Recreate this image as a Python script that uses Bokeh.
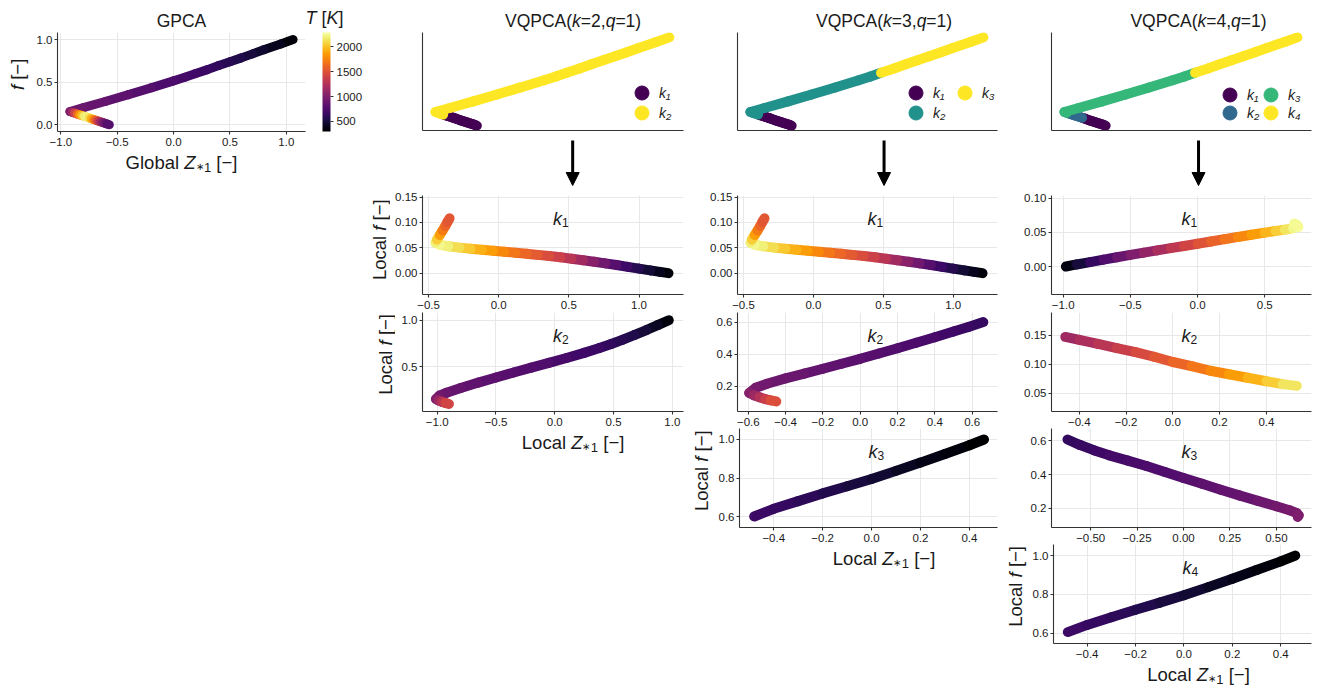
from math import pi
from bokeh.plotting import figure
from bokeh.layouts import row, column
from bokeh.models import (ColumnDataSource, LinearColorMapper, ColorBar, FixedTicker, Label,
                          Legend, LegendItem, Arrow, NormalHead, CustomJSTickFormatter,
                          Range1d)
from bokeh.transform import transform
from bokeh.palettes import Inferno256
from bokeh.embed import file_html
from bokeh.resources import INLINE

FONT = "Liberation Sans"
TXT = "#1a1a1a"
SPINE = "#333333"
GRID = "#e8e8e8"

# ------------------------------------------------------------------ data
# global manifold (GPCA), ordered from the f=1 end, through the bend, to the f=0 end
glob_z = [1.06, 0.95, 0.80, 0.70, 0.60, 0.50, 0.40, 0.30, 0.19, 0.10, 0.00, -0.20, -0.40,
          -0.60, -0.80, -0.92,
          -0.90, -0.88, -0.855, -0.835, -0.815, -0.795, -0.77, -0.75, -0.73, -0.71, -0.69,
          -0.67, -0.65, -0.63, -0.61, -0.59, -0.57]
glob_f = [1.000, 0.948, 0.880, 0.832, 0.785, 0.740, 0.695, 0.647, 0.598, 0.557, 0.515, 0.433,
          0.353, 0.275, 0.200, 0.155,
          0.146, 0.137, 0.126, 0.117, 0.109, 0.100, 0.089, 0.080, 0.071, 0.062, 0.053,
          0.044, 0.035, 0.027, 0.018, 0.009, 0.000]
glob_T = [300, 360, 440, 490, 530, 570, 610, 645, 680, 705, 730, 770, 810, 850, 880, 920,
          1050, 1250, 1500, 1700, 1900, 2100, 2250, 2200, 2050, 1850, 1650, 1450, 1250, 1100,
          950, 830, 750]

# VQPCA cluster label of each global point (segment i -> i+1 takes label of point i)
vq2_lab = [2] * 18 + [1] * 15
vq3_lab = [3] * 8 + [2] * 10 + [1] * 15
vq4_lab = [4] * 8 + [3] * 8 + [2] * 6 + [1] * 11

# local manifolds, VQPCA k=2
k2c1_z = [1.21, 1.15, 1.08, 1.00, 0.92, 0.84, 0.76, 0.68, 0.60, 0.52, 0.44, 0.36, 0.28, 0.20,
          0.12, 0.04, -0.04, -0.12, -0.20, -0.28, -0.36, -0.42, -0.45,
          -0.44, -0.42, -0.40, -0.38, -0.365, -0.35]
k2c1_f = [0.0000, 0.0025, 0.0055, 0.0090, 0.0125, 0.0160, 0.0193, 0.0225, 0.0255, 0.0285,
          0.0312, 0.0337, 0.0360, 0.0382, 0.0403, 0.0422, 0.0441, 0.0461, 0.0481, 0.0503,
          0.0530, 0.0560, 0.0600,
          0.066, 0.075, 0.084, 0.093, 0.101, 0.108]
k2c1_T = [300, 360, 440, 530, 620, 740, 860, 980, 1100, 1230, 1340, 1430, 1510, 1580, 1650,
          1730, 1810, 1900, 1990, 2080, 2170, 2230, 2250,
          2150, 1950, 1780, 1650, 1560, 1500]
k2c2_z = [0.97, 0.88, 0.78, 0.68, 0.58, 0.48, 0.38, 0.25, 0.10, -0.05, -0.20, -0.35, -0.50,
          -0.65, -0.80, -0.92, -0.98, -1.01, -0.99, -0.96, -0.93, -0.90]
k2c2_f = [1.000, 0.950, 0.895, 0.842, 0.792, 0.745, 0.702, 0.650, 0.595, 0.543, 0.491, 0.439,
          0.386, 0.331, 0.272, 0.222, 0.192, 0.155, 0.140, 0.126, 0.113, 0.102]
k2c2_T = [300, 380, 460, 520, 570, 610, 645, 680, 715, 745, 770, 790, 810, 835, 860, 885, 910,
          950, 1050, 1200, 1350, 1480]

# VQPCA k=3
k3c1_z = [1.21, 1.15, 1.08, 1.00, 0.92, 0.84, 0.76, 0.68, 0.60, 0.52, 0.44, 0.36, 0.28, 0.20,
          0.12, 0.04, -0.04, -0.12, -0.20, -0.28, -0.36, -0.42, -0.45,
          -0.44, -0.42, -0.40, -0.38, -0.365, -0.35]
k3c1_f = [0.0000, 0.0025, 0.0055, 0.0090, 0.0125, 0.0160, 0.0193, 0.0225, 0.0255, 0.0285,
          0.0312, 0.0337, 0.0360, 0.0382, 0.0403, 0.0422, 0.0441, 0.0461, 0.0481, 0.0503,
          0.0530, 0.0560, 0.0600,
          0.066, 0.075, 0.084, 0.093, 0.101, 0.108]
k3c1_T = [300, 360, 440, 530, 620, 740, 860, 980, 1100, 1230, 1340, 1430, 1510, 1580, 1650,
          1730, 1810, 1900, 1990, 2080, 2170, 2230, 2250,
          2150, 1950, 1780, 1650, 1560, 1500]
k3c2_z = [0.66, 0.58, 0.50, 0.40, 0.30, 0.20, 0.10, 0.00, -0.10, -0.20, -0.30, -0.40, -0.50,
          -0.56, -0.595, -0.57, -0.54, -0.51, -0.48, -0.45]
k3c2_f = [0.600, 0.570, 0.541, 0.506, 0.471, 0.437, 0.404, 0.371, 0.340, 0.309, 0.279, 0.249,
          0.215, 0.190, 0.158, 0.143, 0.131, 0.120, 0.112, 0.105]
k3c2_T = [620, 650, 680, 710, 740, 765, 790, 810, 830, 850, 870, 890, 910, 930, 980, 1080,
          1200, 1320, 1430, 1520]
k3c3_z = [-0.48, -0.40, -0.30, -0.20, -0.10, 0.00, 0.10, 0.20, 0.30, 0.40, 0.46]
k3c3_f = [0.600, 0.640, 0.680, 0.720, 0.757, 0.795, 0.837, 0.880, 0.925, 0.970, 1.000]
k3c3_T = [690, 660, 620, 580, 535, 490, 445, 400, 355, 315, 290]

# VQPCA k=4
k4c1_z = [-0.98, -0.90, -0.80, -0.70, -0.60, -0.50, -0.40, -0.30, -0.20, -0.10, 0.00, 0.10,
          0.20, 0.30, 0.40, 0.50, 0.58, 0.65, 0.71, 0.75, 0.74, 0.72]
k4c1_f = [0.0000, 0.0030, 0.0065, 0.0100, 0.0135, 0.0170, 0.0203, 0.0236, 0.0270, 0.0300,
          0.0333, 0.0366, 0.0400, 0.0433, 0.0465, 0.0496, 0.0520, 0.0540, 0.0560, 0.0580,
          0.0610, 0.0630]
k4c1_T = [300, 420, 580, 710, 830, 940, 1040, 1150, 1260, 1370, 1460, 1550, 1630, 1720, 1810,
          1910, 2000, 2100, 2200, 2260, 2260, 2250]
k4c2_z = [-0.46, -0.40, -0.32, -0.24, -0.16, -0.08, 0.00, 0.08, 0.16, 0.24, 0.32, 0.40, 0.47,
          0.53]
k4c2_f = [0.147, 0.142, 0.135, 0.128, 0.121, 0.113, 0.104, 0.097, 0.089, 0.083, 0.077, 0.071,
          0.066, 0.063]
k4c2_T = [1120, 1170, 1250, 1330, 1410, 1490, 1570, 1650, 1730, 1810, 1900, 2000, 2100, 2200]
k4c3_z = [-0.625, -0.56, -0.48, -0.40, -0.30, -0.20, -0.10, 0.00, 0.10, 0.20, 0.30, 0.40,
          0.50, 0.57, 0.61, 0.62, 0.615]
k4c3_f = [0.606, 0.575, 0.542, 0.513, 0.482, 0.450, 0.415, 0.380, 0.345, 0.310, 0.277, 0.245,
          0.213, 0.190, 0.172, 0.160, 0.150]
k4c3_T = [620, 640, 665, 690, 715, 740, 765, 790, 815, 840, 865, 890, 920, 945, 965, 985, 1000]
k4c4_z = [-0.48, -0.40, -0.30, -0.20, -0.10, 0.00, 0.10, 0.20, 0.30, 0.40, 0.46]
k4c4_f = [0.605, 0.642, 0.681, 0.720, 0.757, 0.795, 0.837, 0.880, 0.925, 0.970, 1.000]
k4c4_T = [690, 660, 620, 580, 535, 490, 445, 400, 355, 315, 290]

T_ticks = [500, 1000, 1500, 2000]
clust_colors = {2: ["#440154", "#fde725"],
                3: ["#440154", "#21918c", "#fde725"],
                4: ["#440154", "#31688e", "#35b779", "#fde725"]}
clust_names = ["k\u2081", "k\u2082", "k\u2083", "k\u2084"]

mapper = LinearColorMapper(palette=Inferno256, low=295, high=2290)

# ------------------------------------------------------------------ helpers
CW = {' ': 278, '(': 333, ')': 333, ',': 278, '.': 278, '=': 584, 'A': 667, 'C': 722, 'G': 778,
      'K': 667, 'L': 556, 'P': 667, 'Q': 778, 'T': 611, 'V': 667, 'Z': 611, '[': 278, ']': 278,
      'a': 556, 'b': 556, 'c': 500, 'f': 278, 'k': 500, 'l': 222, 'o': 556, 'q': 556,
      '\u2212': 584, '\u2217': 838}

AX = 18.5      # axis-label size
SUB = 13       # subscript size
AST = 10       # subscript asterisk size
TI = 17.5      # title size


def tw(s, size):
    return sum(CW.get(ch, 556) for ch in s) * size / 1000.0


def rich(p, x, y, pieces, xo=0.0, yo=0.0, align="center", vertical=False):
    """Mixed-style text made of several Labels laid side by side (baseline 'middle')."""
    total = sum(tw(t, s) for t, s, it, dy in pieces)
    pos = -total / 2.0 if align == "center" else 0.0
    for t, s, it, dy in pieces:
        lead = len(t) - len(t.lstrip(" "))
        core = t.strip(" ")
        off = pos + tw(" " * lead, s)
        kw = dict(x=x, y=y, text=core, text_font=FONT, text_font_size=f"{s}px",
                  text_font_style="italic" if it else "normal", text_color=TXT,
                  text_align="left", text_baseline="middle")
        if vertical:
            lab = Label(x_offset=xo - dy, y_offset=yo + off, angle=pi / 2, **kw)
        else:
            lab = Label(x_offset=xo + off, y_offset=yo + dy, **kw)
        p.add_layout(lab)
        pos += tw(t, s)


def fmt(d):
    return CustomJSTickFormatter(args=dict(d=d),
                                 code="return tick.toFixed(d).replace('-', '\u2212');")


def strip(w, h):
    p = figure(width=w, height=h, x_range=(0, w), y_range=Range1d(h, 0), x_axis_type=None,
               y_axis_type=None, output_backend="svg", toolbar_location=None, min_border=0)
    p.outline_line_color = None
    p.border_fill_color = "white"
    p.background_fill_color = "white"
    return p


def base_fig(w, h, bl, br, bt, bb, xr, yr):
    p = figure(width=w, height=h, x_range=xr, y_range=yr, output_backend="svg",
               toolbar_location=None, min_border_left=bl, min_border_right=br,
               min_border_top=bt, min_border_bottom=bb)
    p.outline_line_color = None
    p.border_fill_color = "white"
    p.background_fill_color = "white"
    return p


def style_axes(p, xt, yt, xd, yd):
    p.xaxis.ticker = FixedTicker(ticks=xt)
    p.yaxis.ticker = FixedTicker(ticks=yt)
    p.xaxis.formatter = fmt(xd)
    p.yaxis.formatter = fmt(yd)
    for ax in list(p.xaxis) + list(p.yaxis):
        ax.axis_line_color = SPINE
        ax.axis_line_width = 1.1
        ax.major_tick_line_color = SPINE
        ax.major_tick_line_width = 1.1
        ax.major_tick_out = 3
        ax.major_tick_in = 0
        ax.minor_tick_line_color = None
        ax.major_label_text_font = FONT
        ax.major_label_text_font_size = "11.5px"
        ax.major_label_text_color = TXT
        ax.major_label_standoff = 2
    p.xaxis.major_label_standoff = 3
    p.grid.grid_line_color = GRID
    p.grid.grid_line_width = 1


def bare_axes(p):
    for ax in list(p.xaxis) + list(p.yaxis):
        ax.ticker = FixedTicker(ticks=[])
        ax.axis_line_color = SPINE
        ax.axis_line_width = 1.1
        ax.major_tick_line_color = None
        ax.minor_tick_line_color = None
        ax.major_label_text_font_size = "0px"
    p.grid.visible = False


def draw_T(p, z, f, T, lw=9):
    src = ColumnDataSource(dict(x0=z[:-1], y0=f[:-1], x1=z[1:], y1=f[1:],
                                T=[(a + b) / 2.0 for a, b in zip(T[:-1], T[1:])]))
    p.segment("x0", "y0", "x1", "y1", source=src, line_color=transform("T", mapper),
              line_width=lw, line_cap="round")


def draw_clusters(p, z, f, lab, colors, lw=10):
    n = len(z)
    for k, col in enumerate(colors, start=1):
        idx = [i for i in range(n - 1) if lab[i] == k]
        src = ColumnDataSource(dict(x0=[z[i] for i in idx], y0=[f[i] for i in idx],
                                    x1=[z[i + 1] for i in idx], y1=[f[i + 1] for i in idx]))
        p.segment("x0", "y0", "x1", "y1", source=src, line_color=col, line_width=lw,
                  line_cap="round")


def legend_renderer(p, k, color, lab):
    # one real point of cluster k, drawn tiny beneath the curve; it supplies the legend swatch
    idx = [i for i, v in enumerate(lab) if v == k]
    i0 = idx[len(idx) // 2]
    src = ColumnDataSource(dict(x=[glob_z[i0]], y=[glob_f[i0]]))
    return p.scatter("x", "y", source=src, size=1, marker="circle", fill_color=color,
                     line_color=color)


def add_legend(p, k, r, loc):
    leg = Legend(items=[LegendItem(label=clust_names[k - 1], renderers=[r])], location=loc,
                 glyph_width=35, glyph_height=35, label_standoff=-3, padding=0, margin=0,
                 border_line_color=None, background_fill_alpha=0,
                 label_text_font=FONT, label_text_font_size="14px",
                 label_text_font_style="italic", label_text_color=TXT)
    p.add_layout(leg)


Z_SUB = [("Z", AX, True, 0), ("\u2217", AST, False, -4), ("1", SUB, False, -5)]
LOCAL_F = [("Local ", AX, False, 0), ("f", AX, True, 0), (" [\u2212]", AX, False, 0)]
LOCAL_Z = [("Local ", AX, False, 0)] + Z_SUB + [(" [\u2212]", AX, False, 0)]


def k_label(p, xr, yr, k):
    kx = xr[0] + 0.5 * (xr[1] - xr[0])
    ky = yr[0] + 0.765 * (yr[1] - yr[0])
    rich(p, kx, ky, [("k", 18, True, 0), (str(k), 12, False, -4)], align="left")


def local_panel(w, h, bl, br, bt, bb, xr, yr, xt, yt, xd, yd, z, f, T, k):
    p = base_fig(w, h, bl, br, bt, bb, xr, yr)
    style_axes(p, xt, yt, xd, yd)
    draw_T(p, z, f, T, lw=10)
    k_label(p, xr, yr, k)
    return p


def ylab_strip(w, h, cx, cy, pieces):
    s = strip(w, h)
    rich(s, cx, cy, pieces, vertical=True)
    return s


def xlab_strip(w, h, cx, cy, pieces):
    s = strip(w, h)
    rich(s, cx, cy, pieces)
    return s


def title_strip(w, cx, kk):
    s = strip(w, 32)
    rich(s, cx, 20, [("VQPCA(", TI, False, 0), ("k", TI, True, 0), (f"={kk},", TI, False, 0),
                     ("q", TI, True, 0), ("=1)", TI, False, 0)])
    return s


def top_panel(w, bl, br, kk, lab, locs):
    p = base_fig(w, 105, bl, br, 0, 7, (-1.03, 1.18), (-0.055, 1.055))
    bare_axes(p)
    cols = clust_colors[kk]
    rends = [legend_renderer(p, k, cols[k - 1], lab) for k in range(1, kk + 1)]
    draw_clusters(p, glob_z, glob_f, lab, cols)
    for k in range(1, kk + 1):
        add_legend(p, k, rends[k - 1], locs[k - 1])
    return p


def arrow_fig(w, cx):
    h = 53
    p = figure(width=w, height=h, x_range=(0, w), y_range=(0, h), x_axis_type=None,
               y_axis_type=None, output_backend="svg", toolbar_location=None, min_border=0)
    p.outline_line_color = None
    p.add_layout(Arrow(end=NormalHead(size=13, fill_color="black", line_color="black",
                                      line_width=1),
                       x_start=cx, y_start=h - 3, x_end=cx, y_end=h - 48,
                       line_width=3, line_color="black"))
    return p


# ------------------------------------------------------------------ GPCA column (x 0-365)
gx, gy = (-1.03, 1.17), (-0.08, 1.083)
gt = strip(365, 32)
rich(gt, 181, 20.5, [("GPCA", TI, False, 0)])
rich(gt, 324, 17, [("T", 18, True, 0), (" [", 18, False, 0), ("K", 18, True, 0),
                   ("]", 18, False, 0)])
g = base_fig(335, 117, 27, 60, 0, 18, gx, gy)
style_axes(g, [-1.0, -0.5, 0.0, 0.5, 1.0], [0.0, 0.5, 1.0], 1, 1)
draw_T(g, glob_z, glob_f, glob_T)
cb = ColorBar(color_mapper=mapper, location=(265, 0), width=8, height=99, padding=0,
              ticker=FixedTicker(ticks=T_ticks), major_label_text_font=FONT,
              major_label_text_font_size="11.5px", major_label_text_color=TXT,
              major_tick_out=3, major_tick_in=0, major_tick_line_color=SPINE,
              minor_tick_line_color=None, label_standoff=3, bar_line_color=None,
              border_line_color=None, background_fill_alpha=0)
g.add_layout(cb)
gy_s = ylab_strip(30, 117, 17, 49.5, [("f", AX, True, 0), (" [\u2212]", AX, False, 0)])
gx_s = xlab_strip(365, 31, 181, 12.5,
                  [("Global ", AX, False, 0)] + Z_SUB + [(" [\u2212]", AX, False, 0)])
col0 = column(gt, row(gy_s, g), gx_s)

# ------------------------------------------------------------------ column k=2 (x 365-690)
t2 = top_panel(325, 57, 7, 2, vq2_lab, [(202, 20), (202, 0)])
r2_2 = local_panel(300, 122, 32, 7, 5, 18, (-0.543, 1.317), (-0.042, 0.153),
                   [-0.5, 0.0, 0.5, 1.0], [0.0, 0.05, 0.10, 0.15], 1, 2,
                   k2c1_z, k2c1_f, k2c1_T, 1)
r3_2 = local_panel(295, 117, 27, 7, 0, 18, (-1.125, 1.095), (0.021, 1.083),
                   [-1.0, -0.5, 0.0, 0.5, 1.0], [0.5, 1.0], 1, 1,
                   k2c2_z, k2c2_f, k2c2_T, 2)
col1 = column(title_strip(325, 187.5, 2), t2, arrow_fig(325, 187),
              row(ylab_strip(25, 122, 14, 54.5, LOCAL_F), r2_2),
              row(ylab_strip(30, 117, 20, 49.5, LOCAL_F), r3_2),
              xlab_strip(325, 31, 187.5, 12.5, LOCAL_Z))

# ------------------------------------------------------------------ column k=3 (x 690-1004)
t3 = top_panel(314, 47, 7, 3, vq3_lab, [(161, 20), (161, 0), (210, 20)])
r2_3 = local_panel(314, 122, 47, 7, 5, 18, (-0.543, 1.317), (-0.042, 0.153),
                   [-0.5, 0.0, 0.5, 1.0], [0.0, 0.05, 0.10, 0.15], 1, 2,
                   k3c1_z, k3c1_f, k3c1_T, 1)
r3_3 = local_panel(314, 116, 47, 7, 0, 17, (-0.658, 0.736), (0.042, 0.66),
                   [-0.6, -0.4, -0.2, 0.0, 0.2, 0.4, 0.6], [0.2, 0.4, 0.6], 1, 1,
                   k3c2_z, k3c2_f, k3c2_T, 2)
r4_3 = local_panel(289, 116, 22, 7, 0, 17, (-0.54, 0.515), (0.543, 1.057),
                   [-0.4, -0.2, 0.0, 0.2, 0.4], [0.6, 0.8, 1.0], 1, 1,
                   k3c3_z, k3c3_f, k3c3_T, 3)
col2 = column(title_strip(314, 177, 3), t3, arrow_fig(314, 177), r2_3, r3_3,
              row(ylab_strip(25, 116, 11, 49.5, LOCAL_F), r4_3),
              xlab_strip(314, 31, 177, 13.5, LOCAL_Z))

# ------------------------------------------------------------------ column k=4 (x 1004-1317)
t4 = top_panel(313, 47, 6, 4, vq4_lab, [(161, 18), (161, 0), (202, 18), (202, 0)])
r2_4 = local_panel(313, 122, 47, 6, 5, 18, (-1.087, 0.848), (-0.041, 0.104),
                   [-1.0, -0.5, 0.0, 0.5], [0.0, 0.05, 0.10], 1, 2,
                   k4c1_z, k4c1_f, k4c1_T, 1)
r3_4 = local_panel(313, 116, 47, 6, 0, 17, (-0.519, 0.593), (0.019, 0.189),
                   [-0.4, -0.2, 0.0, 0.2, 0.4], [0.05, 0.10, 0.15], 1, 2,
                   k4c2_z, k4c2_f, k4c2_T, 2)
r4_4 = local_panel(313, 116, 47, 6, 0, 17, (-0.711, 0.689), (0.088, 0.671),
                   [-0.5, -0.25, 0.0, 0.25, 0.5], [0.2, 0.4, 0.6], 2, 1,
                   k4c3_z, k4c3_f, k4c3_T, 3)
r5_4 = local_panel(288, 117, 22, 6, 0, 18, (-0.539, 0.527), (0.546, 1.057),
                   [-0.4, -0.2, 0.0, 0.2, 0.4], [0.6, 0.8, 1.0], 1, 1,
                   k4c4_z, k4c4_f, k4c4_T, 4)
col3 = column(title_strip(313, 177, 4), t4, arrow_fig(313, 177), r2_4, r3_4, r4_4,
              row(ylab_strip(25, 117, 11, 49.5, LOCAL_F), r5_4),
              xlab_strip(313, 25, 177, 12.5, LOCAL_Z))

layout = row(col0, col1, col2, col3)

with open("out.html", "w") as fh:
    fh.write(file_html(layout, INLINE))
